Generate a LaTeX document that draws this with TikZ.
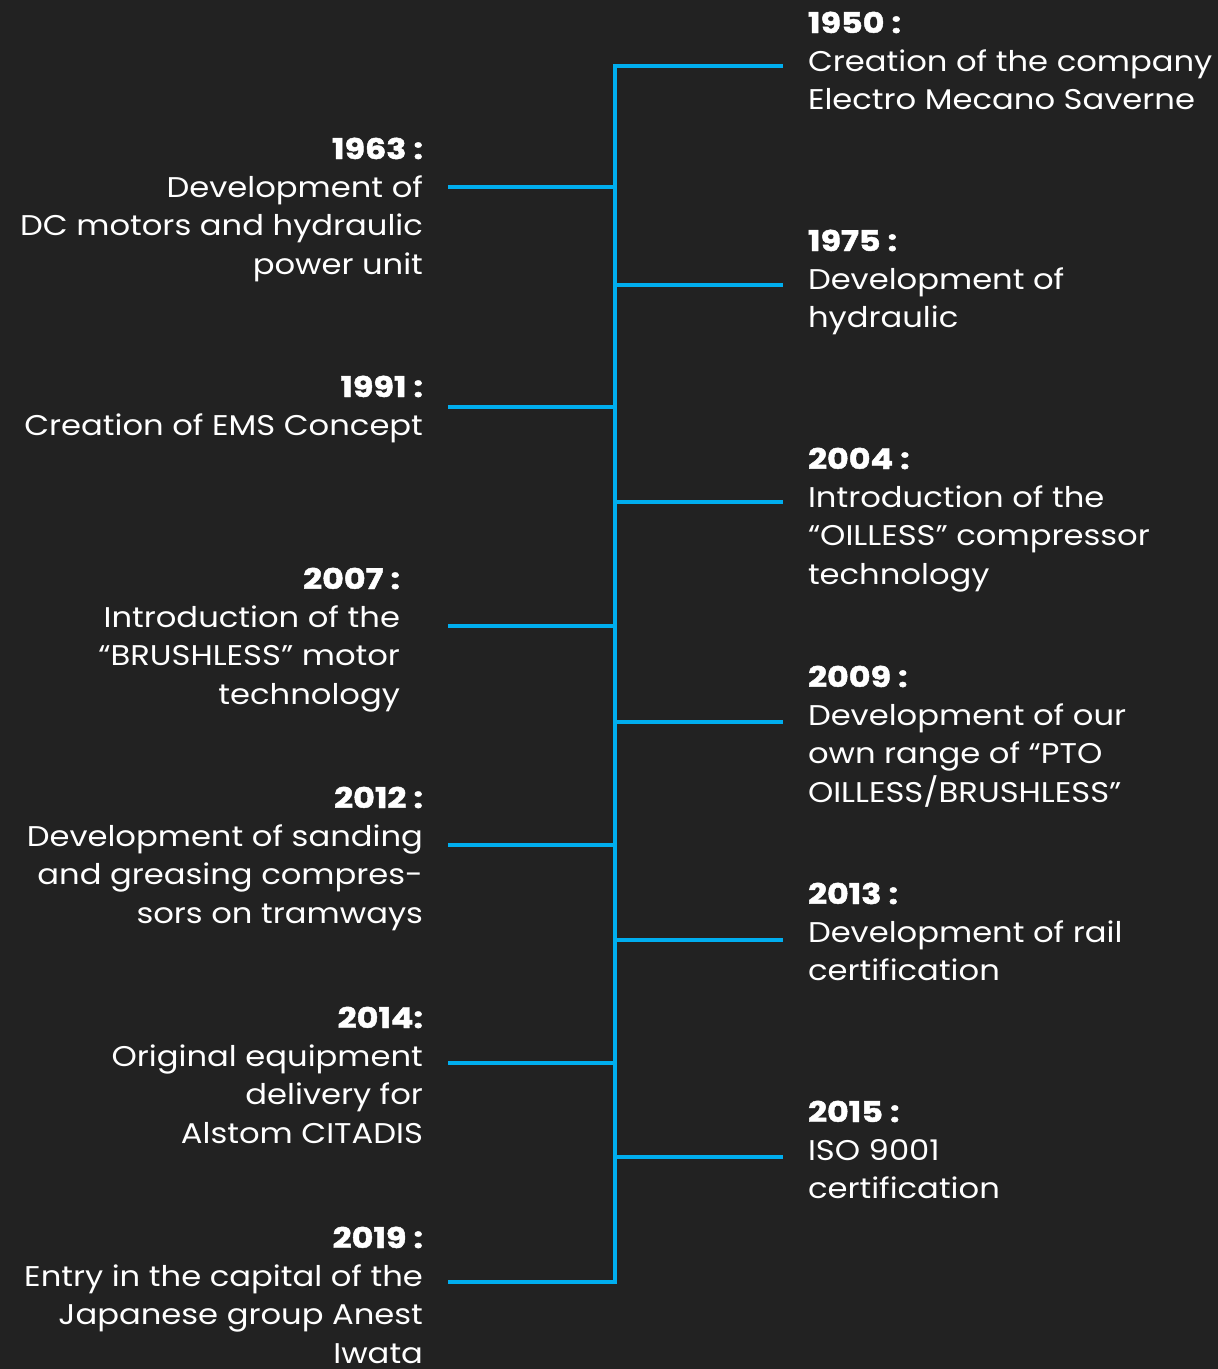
\documentclass[tikz,border=0pt]{standalone}
\usepackage{fontspec}
\setmainfont{Poppins}[FakeStretch=1.13]
\newfontfamily\yrfont{Poppins}[FakeStretch=1.17, BoldFeatures={FakeBold=1.6}]
\definecolor{bgc}{HTML}{222222}
\definecolor{tlc}{HTML}{00AEEF}
\newcommand\evfont{\fontsize{28.5}{38.4}\selectfont}
\newcommand\yr[1]{{\yrfont\bfseries #1}}
\newcommand\evL[1]{\begin{tabular}[t]{@{}l@{}}#1\end{tabular}}
\newcommand\evR[1]{\begin{tabular}[t]{@{}r@{}}#1\end{tabular}}
\begin{document}
\begin{tikzpicture}[x=1pt,y=-1pt,
  ev/.style={inner sep=0pt, outer sep=0pt, text=white, font=\evfont},
  evright/.style={ev, anchor=base west},
  evleft/.style={ev, anchor=base east},
  tline/.style={draw=tlc, line width=4.6pt, line join=miter}]
\fill[bgc] (0,0) rectangle (1218,1369);
\useasboundingbox (0,0) rectangle (1218,1369);

% right side events
\node[evright] (e1950) at (808,33) {\evL{\yr{1950 :}\\Creation of the company\\Electro Mecano Saverne}};
\node[evright] (e1975) at (808,251) {\evL{\yr{1975 :}\\Development of\\hydraulic}};
\node[evright] (e2004) at (808,469) {\evL{\yr{2004 :}\\Introduction of the\\“OILLESS” compressor\\technology}};
\node[evright] (e2009) at (808,687) {\evL{\yr{2009 :}\\Development of our\\own range of “PTO\\OILLESS/BRUSHLESS”}};
\node[evright] (e2013) at (808,904) {\evL{\yr{2013 :}\\Development of rail\\certification}};
\node[evright] (e2015) at (808,1122) {\evL{\yr{2015 :}\\ISO 9001\\certification}};

% left side events
\node[evleft] (e1963) at (423,159) {\evR{\yr{1963 :}\\Development of\\DC motors and hydraulic\\power unit}};
\node[evleft] (e1991) at (423,397) {\evR{\yr{1991 :}\\Creation of EMS Concept}};
\node[evleft] (e2007) at (400,589) {\evR{\yr{2007 :}\\Introduction of the\\“BRUSHLESS” motor\\technology}};
\node[evleft] (e2012) at (423,808) {\evR{\yr{2012 :}\\Development of sanding\\and greasing compres-\\sors on tramways}};
\node[evleft] (e2014) at (423,1028) {\evR{\yr{2014:}\\Original equipment\\delivery for\\Alstom CITADIS}};
\node[evleft] (e2019) at (423,1248) {\evR{\yr{2019 :}\\Entry in the capital of the\\Japanese group Anest\\Iwata}};

% spine junctions and branch ends
\coordinate (j1950) at (615,66);   \coordinate (b1950) at (783,66);
\coordinate (j1963) at (615,187);  \coordinate (b1963) at (448,187);
\coordinate (j1975) at (615,285);  \coordinate (b1975) at (783,285);
\coordinate (j1991) at (615,407);  \coordinate (b1991) at (448,407);
\coordinate (j2004) at (615,502);  \coordinate (b2004) at (783,502);
\coordinate (j2007) at (615,626);  \coordinate (b2007) at (448,626);
\coordinate (j2009) at (615,722);  \coordinate (b2009) at (783,722);
\coordinate (j2012) at (615,845);  \coordinate (b2012) at (448,845);
\coordinate (j2013) at (615,940);  \coordinate (b2013) at (783,940);
\coordinate (j2014) at (615,1063); \coordinate (b2014) at (448,1063);
\coordinate (j2015) at (615,1157); \coordinate (b2015) at (783,1157);
\coordinate (j2019) at (615,1282); \coordinate (b2019) at (448,1282);

% spine with end branches
\draw[tline] (b1950) -- (j1950) -- (j2019) -- (b2019);
\foreach \e in {1963,1975,1991,2004,2007,2009,2012,2013,2014,2015}
  \draw[tline] (j\e) -- (b\e);
\end{tikzpicture}
\end{document}
